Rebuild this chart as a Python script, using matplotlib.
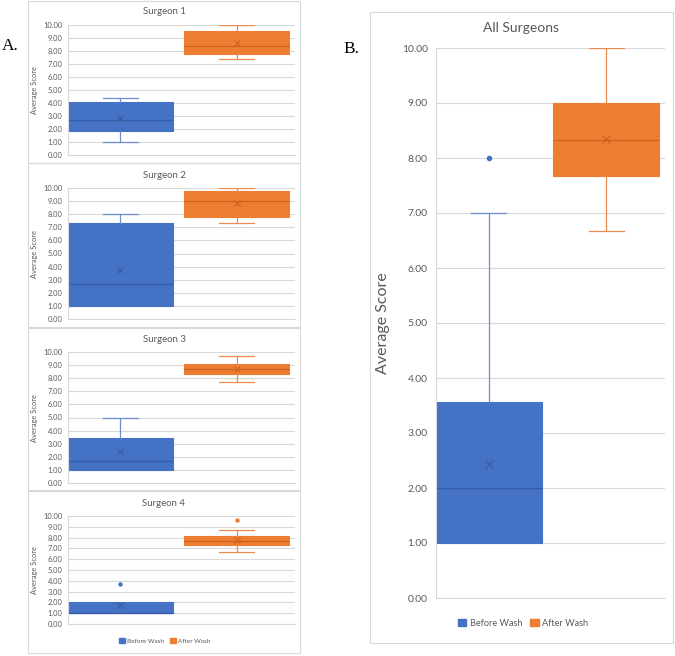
import matplotlib
matplotlib.use('Agg')
import matplotlib.pyplot as plt
from matplotlib.patches import Rectangle, Patch

# panel titles (4 surgeons + pooled)
titles = ["Surgeon 1", "Surgeon 2", "Surgeon 3", "Surgeon 4", "All Surgeons"]

# Before Wash: whisker low, Q1, median, Q3, whisker high, mean, outliers
before_lo   = [1.00, 1.00, 1.00, 1.00, 1.00]
before_q1   = [1.85, 1.00, 1.00, 1.00, 1.00]
before_med  = [2.70, 2.70, 1.70, 1.00, 2.00]
before_q3   = [4.05, 7.30, 3.40, 2.03, 3.57]
before_hi   = [4.40, 8.00, 5.00, 2.03, 7.00]
before_mean = [2.85, 3.75, 2.35, 1.73, 2.43]
before_out  = [[], [], [], [3.67], [8.00]]

# After Wash
after_lo   = [7.35, 7.35, 7.70, 6.67, 6.67]
after_q1   = [7.80, 7.80, 8.35, 7.30, 7.67]
after_med  = [8.40, 9.00, 8.70, 7.67, 8.33]
after_q3   = [9.55, 9.80, 9.05, 8.13, 9.00]
after_hi   = [10.00, 10.00, 9.70, 8.67, 10.00]
after_mean = [8.65, 8.85, 8.70, 7.77, 8.35]
after_out  = [[], [], [], [9.67], []]

series = ["Before Wash", "After Wash"]
BLUE, ORANGE = "#4472C4", "#ED7D31"
BLUE_D, ORANGE_D = "#355DA6", "#C9621F"
BLUE_W, ORANGE_W = "#6C8ED0", "#EE8A4A"
GRID = "#D9D9D9"
TXT = "#595959"
FONT = "Lato"

W, H = 675, 656
fig = plt.figure(figsize=(W / 100, H / 100), dpi=100)


def fx(px):
    return px / W


def fy(py):
    return 1 - py / H


def frame(x0, y0, x1, y1):
    fig.add_artist(Rectangle((fx(x0), fy(y1)), fx(x1) - fx(x0), fy(y0) - fy(y1),
                             transform=fig.transFigure, fill=False,
                             edgecolor=GRID, linewidth=0.8))


def draw_panel(i, box, small=True):
    x0, y10, x1, y0 = box
    ax = fig.add_axes([fx(x0), fy(y0), fx(x1) - fx(x0), fy(y10) - fy(y0)])
    groups = [
        (before_lo, before_q1, before_med, before_q3, before_hi, before_mean, before_out, BLUE, BLUE_D, BLUE_W),
        (after_lo, after_q1, after_med, after_q3, after_hi, after_mean, after_out, ORANGE, ORANGE_D, ORANGE_W),
    ]
    for k, (lo, q1, med, q3, hi, mn, out, c, cd, cw) in enumerate(groups):
        st = dict(whislo=lo[i], q1=q1[i], med=med[i], q3=q3[i], whishi=hi[i],
                  mean=mn[i], fliers=out[i])
        parts = ax.bxp([st], positions=[k + 1], widths=0.9, capwidths=0.3,
                       showmeans=True, patch_artist=True, manage_ticks=False,
                       boxprops=dict(facecolor=c, edgecolor=c, linewidth=0.8),
                       whiskerprops=dict(color=cw, linewidth=0.9),
                       capprops=dict(color=cw, linewidth=0.9),
                       medianprops=dict(color=cd, linewidth=0.9),
                       meanprops=dict(marker='x', markeredgecolor=cd,
                                      markersize=4 if small else 6, markeredgewidth=0.8),
                       flierprops=dict(marker='o', markerfacecolor=c, markeredgecolor=c,
                                       markersize=2.2 if small else 3))
        # no whisker/cap when whisker sits on the box edge
        if lo[i] == q1[i]:
            parts['caps'][0].set_visible(False)
            parts['whiskers'][0].set_visible(False)
        if hi[i] == q3[i]:
            parts['caps'][1].set_visible(False)
            parts['whiskers'][1].set_visible(False)
    ax.set_xlim(0.55, 2.5)
    ax.set_ylim(0, 10)
    ax.set_yticks(range(0, 11))
    ax.set_yticklabels(["%.2f" % v for v in range(0, 11)])
    ax.set_xticks([])
    ax.tick_params(axis='y', length=0, pad=4 if small else 6,
                   labelsize=5.4 if small else 7.4, labelcolor=TXT)
    for lab in ax.get_yticklabels():
        lab.set_fontfamily(FONT)
    ax.yaxis.grid(True, color=GRID, linewidth=0.8)
    ax.set_axisbelow(True)
    for s in ["top", "right"]:
        ax.spines[s].set_visible(False)
    for s in ["left", "bottom"]:
        ax.spines[s].set_color(GRID)
        ax.spines[s].set_linewidth(0.8)
    ax.set_ylabel("Average Score", fontsize=5.4 if small else 11.5,
                  color=TXT, family=FONT)
    return ax


# left column: four surgeons
frame(28, 1, 300, 163)
frame(28, 163, 300, 327)
frame(28, 328, 300, 490)
frame(28, 491, 300, 653)
left_boxes = [(68, 25, 295, 155), (68, 188, 295, 319), (68, 352, 295, 483), (68, 516, 295, 624)]
title_y = [12, 175, 339, 503]
for i, b in enumerate(left_boxes):
    ax = draw_panel(i, b, small=True)
    ax.yaxis.set_label_coords((38 - 68) / 227, 0.5)
    fig.text(fx(164), fy(title_y[i]), titles[i], ha='center', va='center',
             fontsize=6.9, color=TXT, family=FONT)

handles = [Patch(facecolor=BLUE, edgecolor=BLUE), Patch(facecolor=ORANGE, edgecolor=ORANGE)]
fig.legend(handles, series, loc='center', bbox_to_anchor=(fx(165), fy(641)),
           ncol=2, frameon=False, prop=dict(family=FONT, size=4.6),
           labelcolor=TXT, handlelength=0.9, handleheight=0.9,
           handletextpad=0.4, columnspacing=0.9)

# right column: all surgeons
frame(370, 12, 673, 643)
axr = draw_panel(4, (436, 48, 665, 598), small=False)
axr.yaxis.set_label_coords((390 - 436) / 229, 0.5)
fig.text(fx(521), fy(28), titles[4], ha='center', va='center',
         fontsize=10, color=TXT, family=FONT)
fig.legend(handles, series, loc='center', bbox_to_anchor=(fx(523), fy(623)),
           ncol=2, frameon=False, prop=dict(family=FONT, size=6.6),
           labelcolor=TXT, handlelength=0.9, handleheight=0.9,
           handletextpad=0.4, columnspacing=0.9)

# panel letters
fig.text(fx(2), fy(46), "A.", fontsize=12.5, family="Liberation Serif", va='center')
fig.text(fx(343), fy(49), "B.", fontsize=12.5, family="Liberation Serif", va='center')

fig.savefig("out.png", dpi=100, facecolor="white")
